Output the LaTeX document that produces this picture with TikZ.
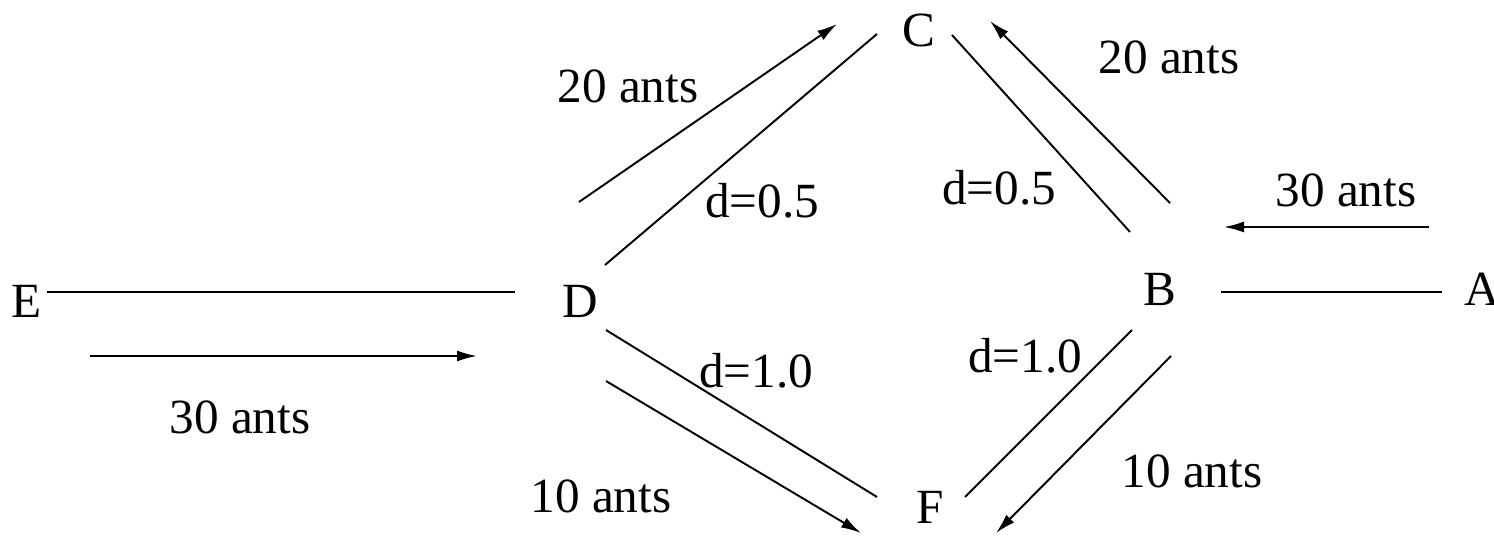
\documentclass[tikz,border=0pt]{standalone}
\usepackage{fontspec}
\setmainfont{Liberation Serif}
\usetikzlibrary{arrows.meta}

\begin{document}
\begin{tikzpicture}[
    x=0.02cm, y=-0.02cm,
    font=\fontsize{28}{32}\selectfont,
    city/.style={inner sep=0pt},
    lbl/.style={inner sep=0pt},
    trail/.style={line width=1.1pt},
    flow/.style={line width=1.1pt, -{Latex[length=4mm, width=2.2mm]}}
]
    \useasboundingbox (0,0) rectangle (1494,536);

    % towns
    \node[city] (E) at (27,301) {E};
    \node[city] (D) at (580,301) {D};
    \node[city] (C) at (919,30) {C};
    \node[city] (B) at (1160,289) {B};
    \node[city] (A) at (1482,289) {A};
    \node[city] (F) at (930,507) {F};

    % paths
    \draw[trail] ([shift={(20,-9)}]E.center) -- ([shift={(-65,-9)}]D.center);
    \draw[trail] ([shift={(61,3)}]B.center) -- ([shift={(-40,3)}]A.center);
    \draw[trail] ([shift={(25,-36)}]D.center) -- ([shift={(-42,4)}]C.center);
    \draw[trail] ([shift={(33,5)}]C.center) -- ([shift={(-30,-57)}]B.center);
    \draw[trail] ([shift={(26,29)}]D.center) -- ([shift={(-53,-10)}]F.center);
    \draw[trail] ([shift={(-28,41)}]B.center) -- ([shift={(35,-10)}]F.center);

    % ant flows
    \coordinate (ed1) at (90,356);   \coordinate (ed2) at (477,356);
    \coordinate (ab1) at (1429,227); \coordinate (ab2) at (1224,227);
    \coordinate (dc1) at (579,202);  \coordinate (dc2) at (837,24);
    \coordinate (bc1) at (1170,203); \coordinate (bc2) at (990,21);
    \coordinate (df1) at (606,381);  \coordinate (df2) at (861,533);
    \coordinate (bf1) at (1171,356); \coordinate (bf2) at (996,533);

    \draw[flow] (ed1) -- (ed2);
    \draw[flow] (ab1) -- (ab2);
    \draw[flow] (dc1) -- (dc2);
    \draw[flow] (bc1) -- (bc2);
    \draw[flow] (df1) -- (df2);
    \draw[flow] (bf1) -- (bf2);

    % labels
    \node[lbl] (n20l) at (628,86) {20 ants};
    \node[lbl] (n20r) at (1169,57) {20 ants};
    \node[lbl] (n30r) at (1346,190) {30 ants};
    \node[lbl] (n30l) at (240,417) {30 ants};
    \node[lbl] (dcl) at (762,201) {d=0.5};
    \node[lbl] (dcr) at (999,188) {d=0.5};
    \node[lbl] (dfl) at (756,371) {d=1.0};
    \node[lbl] (dfr) at (1025,356) {d=1.0};
    \node[lbl] (n10l) at (601,496) {10 ants};
    \node[lbl] (n10r) at (1192,471) {10 ants};
\end{tikzpicture}
\end{document}
